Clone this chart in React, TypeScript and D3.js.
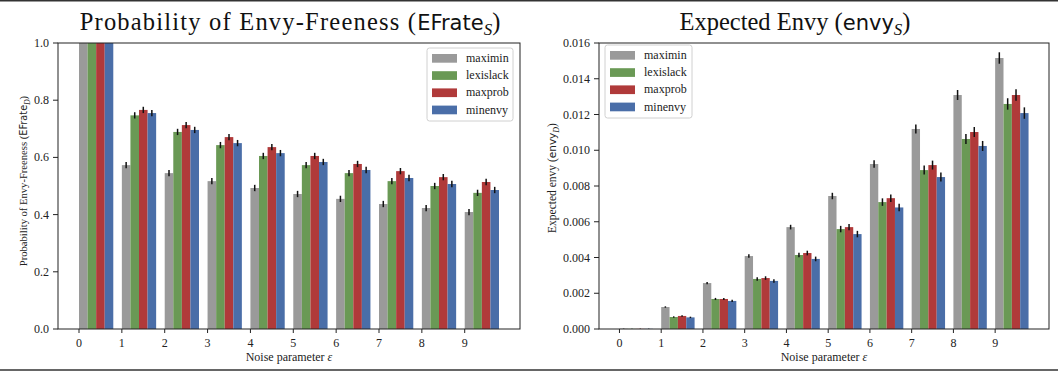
import React, { useEffect, useRef } from 'react';
import * as d3 from 'd3';

// noise parameter groups and methods
const groups = [0, 1, 2, 3, 4, 5, 6, 7, 8, 9];
const methods = ['maximin', 'lexislack', 'maxprob', 'minenvy'];
const colors = ['#9a9a9a', '#6a9955', '#b03a3a', '#4a6ea8'];

// probability of envy-freeness
const efMaximin = [1.0, 0.573, 0.545, 0.517, 0.493, 0.472, 0.455, 0.437, 0.423, 0.409];
const efLexislack = [1.0, 0.747, 0.689, 0.643, 0.605, 0.573, 0.545, 0.517, 0.5, 0.476];
const efMaxprob = [1.0, 0.766, 0.713, 0.671, 0.636, 0.605, 0.577, 0.552, 0.531, 0.514];
const efMinenvy = [1.0, 0.755, 0.696, 0.65, 0.615, 0.584, 0.556, 0.528, 0.507, 0.486];
const efErr = [0, 0.011, 0.011, 0.011, 0.011, 0.011, 0.011, 0.011, 0.011, 0.011];

// expected envy
const envyMaximin = [0.00002, 0.00123, 0.00257, 0.00408, 0.0057, 0.00744, 0.00923, 0.01119, 0.01309, 0.01516];
const envyLexislack = [0.00001, 0.00067, 0.00168, 0.0028, 0.00414, 0.00559, 0.0071, 0.00889, 0.01063, 0.01259];
const envyMaxprob = [0.00001, 0.00073, 0.00168, 0.00285, 0.00425, 0.0057, 0.00732, 0.00917, 0.01102, 0.01309];
const envyMinenvy = [0.00001, 0.00065, 0.00157, 0.00269, 0.00392, 0.00531, 0.0068, 0.0085, 0.01024, 0.01208];
const envyErr = [0.00001, 0.00004, 0.00006, 0.0001, 0.00013, 0.00018, 0.00021, 0.00025, 0.00028, 0.00032];

const efTicks = [0, 0.2, 0.4, 0.6, 0.8, 1.0];
const envyTicks = [0, 0.002, 0.004, 0.006, 0.008, 0.01, 0.012, 0.014, 0.016];

const SERIF = '"Liberation Serif", "Times New Roman", serif';
const SANS = '"DejaVu Sans", "Liberation Sans", sans-serif';

type Panel = {
    x0: number; x1: number; top: number; bottom: number;
    series: number[][]; err: number[]; yMax: number; ticks: number[]; fmt: (v: number) => string;
    legendX: number; legendY: number; legendW: number;
};

function drawPanel(svg: any, p: Panel) {
    const x = d3.scaleLinear().domain([-0.49, 10.29]).range([p.x0, p.x1]);
    const y = d3.scaleLinear().domain([0, p.yMax]).range([p.bottom, p.top]);
    const bw = 0.2;
    const g = svg.append('g');

    p.series.forEach((vals, k) => {
        g.selectAll(null)
            .data(vals)
            .enter()
            .append('rect')
            .attr('x', (d: number, i: number) => x(groups[i] + k * bw))
            .attr('y', (d: number) => y(d))
            .attr('width', x(bw) - x(0))
            .attr('height', (d: number) => y(0) - y(d))
            .attr('fill', colors[k]);
        g.selectAll(null)
            .data(vals)
            .enter()
            .append('line')
            .attr('x1', (d: number, i: number) => x(groups[i] + k * bw + bw / 2))
            .attr('x2', (d: number, i: number) => x(groups[i] + k * bw + bw / 2))
            .attr('y1', (d: number, i: number) => Math.max(y(d + p.err[i]), p.top))
            .attr('y2', (d: number, i: number) => y(d - p.err[i]))
            .attr('stroke', '#111')
            .attr('stroke-width', 1.5);
    });

    // spines
    g.append('rect')
        .attr('x', p.x0).attr('y', p.top)
        .attr('width', p.x1 - p.x0).attr('height', p.bottom - p.top)
        .attr('fill', 'none').attr('stroke', '#222').attr('stroke-width', 1);

    // y ticks
    p.ticks.forEach((t) => {
        g.append('line')
            .attr('x1', p.x0 - 5).attr('x2', p.x0)
            .attr('y1', y(t)).attr('y2', y(t))
            .attr('stroke', '#222');
        g.append('text')
            .attr('x', p.x0 - 9).attr('y', y(t) + 4)
            .attr('text-anchor', 'end')
            .attr('font-family', SERIF).attr('font-size', 12)
            .attr('fill', '#222')
            .text(p.fmt(t));
    });

    // x ticks
    groups.forEach((t) => {
        g.append('line')
            .attr('x1', x(t)).attr('x2', x(t))
            .attr('y1', p.bottom).attr('y2', p.bottom + 4)
            .attr('stroke', '#222');
        g.append('text')
            .attr('x', x(t)).attr('y', p.bottom + 18)
            .attr('text-anchor', 'middle')
            .attr('font-family', SERIF).attr('font-size', 12)
            .attr('fill', '#222')
            .text(String(t));
    });

    // x label
    const xl = g.append('text')
        .attr('x', (p.x0 + p.x1) / 2).attr('y', p.bottom + 32)
        .attr('text-anchor', 'middle')
        .attr('font-family', SERIF).attr('font-size', 12)
        .attr('fill', '#222');
    xl.append('tspan').text('Noise parameter ');
    xl.append('tspan').attr('font-style', 'italic').text('ε');

    // legend
    const lg = g.append('g').attr('transform', `translate(${p.legendX},${p.legendY})`);
    lg.append('rect')
        .attr('width', p.legendW).attr('height', 73)
        .attr('rx', 2.5)
        .attr('fill', 'white').attr('fill-opacity', 0.85)
        .attr('stroke', '#d0d0d0').attr('stroke-width', 1);
    methods.forEach((m, k) => {
        lg.append('rect')
            .attr('x', 5).attr('y', 6 + k * 17.2)
            .attr('width', 25).attr('height', 8.7)
            .attr('fill', colors[k]);
        lg.append('text')
            .attr('x', 39).attr('y', 14 + k * 17.2)
            .attr('font-family', SERIF).attr('font-size', 12)
            .attr('fill', '#222')
            .text(m);
    });
}

function App() {
    const ref = useRef<SVGSVGElement>(null);

    useEffect(() => {
        document.body.style.margin = '0';
        const svg = d3.select(ref.current);
        svg.selectAll('*').remove();

        svg.append('rect').attr('width', 1058).attr('height', 373).attr('fill', 'white');
        svg.append('line').attr('x1', 0).attr('x2', 1058).attr('y1', 0.8).attr('y2', 0.8)
            .attr('stroke', '#333').attr('stroke-width', 1.6);
        svg.append('line').attr('x1', 0).attr('x2', 1058).attr('y1', 370).attr('y2', 370)
            .attr('stroke', '#333').attr('stroke-width', 1.4);

        drawPanel(svg, {
            x0: 58, x1: 520, top: 43, bottom: 329,
            series: [efMaximin, efLexislack, efMaxprob, efMinenvy], err: efErr,
            yMax: 1.0, ticks: efTicks, fmt: d3.format('.1f'),
            legendX: 427, legendY: 48, legendW: 86,
        });
        drawPanel(svg, {
            x0: 599, x1: 1049, top: 43, bottom: 329,
            series: [envyMaximin, envyLexislack, envyMaxprob, envyMinenvy], err: envyErr,
            yMax: 0.016, ticks: envyTicks, fmt: d3.format('.3f'),
            legendX: 605, legendY: 45, legendW: 87,
        });

        // titles
        const t1 = svg.append('text').attr('x', 290).attr('y', 30).attr('text-anchor', 'middle')
            .attr('font-family', SERIF).attr('font-size', 24.5).attr('fill', '#111');
        t1.append('tspan').attr('letter-spacing', 1.2).text('Probability of Envy-Freeness (');
        t1.append('tspan').attr('font-family', SANS).attr('font-size', 21).text('EFrate');
        t1.append('tspan').attr('font-style', 'italic').attr('font-size', 17).attr('dy', 5).text('S');
        t1.append('tspan').attr('dy', -5).text(')');

        const t2 = svg.append('text').attr('x', 795).attr('y', 30).attr('text-anchor', 'middle')
            .attr('font-family', SERIF).attr('font-size', 24.5).attr('fill', '#111');
        t2.append('tspan').text('Expected Envy (');
        t2.append('tspan').attr('font-family', SANS).attr('font-size', 21).text('envy');
        t2.append('tspan').attr('font-style', 'italic').attr('font-size', 17).attr('dy', 5).text('S');
        t2.append('tspan').attr('dy', -5).text(')');

        // y labels
        const y1 = svg.append('text').attr('transform', 'translate(27,181) rotate(-90)')
            .attr('text-anchor', 'middle').attr('font-family', SERIF).attr('font-size', 10.6).attr('fill', '#222');
        y1.append('tspan').text('Probability of Envy-Freeness (');
        y1.append('tspan').attr('font-family', SANS).attr('font-size', 9.8).text('EFrate');
        y1.append('tspan').attr('font-style', 'italic').attr('font-size', 7.5).attr('dy', 2.5).text('D');
        y1.append('tspan').attr('dy', -2.5).text(')');

        const y2 = svg.append('text').attr('transform', 'translate(556,178) rotate(-90)')
            .attr('text-anchor', 'middle').attr('font-family', SERIF).attr('font-size', 11.5).attr('fill', '#222');
        y2.append('tspan').text('Expected envy (');
        y2.append('tspan').attr('font-family', SANS).attr('font-size', 10.5).text('envy');
        y2.append('tspan').attr('font-style', 'italic').attr('font-size', 8).attr('dy', 2.5).text('D');
        y2.append('tspan').attr('dy', -2.5).text(')');
    }, []);

    return <svg ref={ref} width={1058} height={373} style={{ display: 'block' }}></svg>;
}

export default App;
